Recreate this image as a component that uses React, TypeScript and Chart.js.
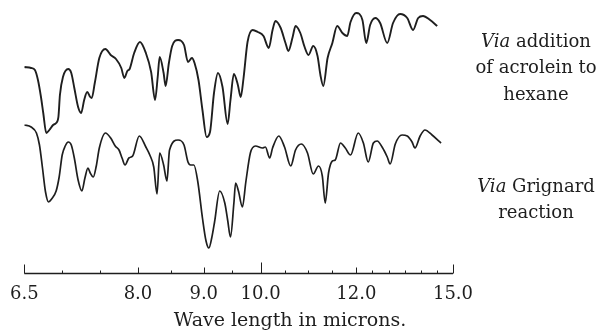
import React, { useEffect, useRef } from 'react';
import { Chart, LinearScale, registerables } from 'chart.js';

// ---- axis data ----
const TICK_MICRONS = [6.5, 8.0, 9.0, 10.0, 12.0, 15.0];
const TICK_LABELS = ['6.5', '8.0', '9.0', '10.0', '12.0', '15.0'];
const MINOR_TICK_MICRONS = [7.0, 7.5, 8.5, 9.5, 10.5, 11.0, 11.5, 12.5, 13.0, 13.5, 14.0, 14.5];
// prism (NaCl) calibration: wavelength -> fraction of drum travel
const CAL_MICRONS = [6.5, 8.0, 9.0, 10.0, 12.0, 15.0];
const CAL_DRUM = [0, 0.2651, 0.4186, 0.5512, 0.7744, 1.0];

const AXIS_TITLE = 'Wave length in microns.';

// ---- spectrum: via addition of acrolein to hexane ----
const acroleinMicrons = [
  6.5, 6.59, 6.64, 6.68, 6.72, 6.75, 6.79, 6.83, 6.88, 6.92, 6.95, 6.97, 7.01, 7.08, 7.12, 7.16, 7.21, 7.25, 7.29, 7.33,
  7.37, 7.39, 7.43, 7.49, 7.57, 7.64, 7.71, 7.78, 7.82, 7.86, 7.89, 7.95, 8.03, 8.12, 8.2, 8.26, 8.3, 8.33, 8.39, 8.42,
  8.47, 8.52, 8.61, 8.7, 8.76, 8.82, 8.86, 8.92, 8.98, 9.05, 9.11, 9.18, 9.25, 9.33, 9.42, 9.47, 9.53, 9.6, 9.65, 9.7,
  9.77, 9.86, 9.95, 10.06, 10.17, 10.25, 10.31, 10.42, 10.52, 10.58, 10.67, 10.73, 10.83, 10.92, 11.0, 11.1, 11.19, 11.25, 11.31, 11.4,
  11.5, 11.6, 11.71, 11.81, 11.88, 12.0, 12.19, 12.31, 12.43, 12.59, 12.74, 12.96, 13.14, 13.36, 13.58, 13.76, 13.92, 14.07, 14.29, 14.51,
];
const acroleinTrans = [
  82.8, 82.4, 81.6, 77.6, 70.8, 64.4, 56.4, 57.6, 59.6, 60.4, 62.8, 71.6, 78.8, 82.0, 80.4, 74.4, 66.8, 64.4, 69.6, 72.8,
  70.8, 70.4, 76.4, 86.4, 90.0, 87.6, 86.0, 82.4, 78.4, 81.2, 82.0, 88.4, 92.8, 88.4, 80.8, 69.6, 78.8, 86.8, 80.4, 75.2,
  84.4, 91.2, 93.6, 91.6, 84.8, 86.4, 84.4, 77.6, 65.6, 54.8, 56.8, 72.4, 80.4, 74.8, 60.0, 69.6, 80.0, 75.6, 70.8, 78.4,
  92.8, 97.6, 96.8, 95.2, 90.4, 97.6, 101.2, 98.4, 92.4, 89.2, 94.8, 99.2, 96.4, 90.8, 87.6, 91.2, 87.2, 79.6, 75.2, 86.4,
  92.4, 99.2, 96.4, 95.2, 100.8, 104.4, 101.6, 92.4, 99.6, 102.4, 100.4, 92.4, 100.4, 104.0, 102.4, 97.6, 102.4, 103.2, 101.6, 99.2,
];

// ---- spectrum: via Grignard reaction ----
const grignardMicrons = [
  6.5, 6.59, 6.66, 6.7, 6.74, 6.78, 6.82, 6.86, 6.92, 6.96, 7.0, 7.04, 7.08, 7.12, 7.16, 7.21, 7.26, 7.3, 7.34, 7.37,
  7.41, 7.45, 7.49, 7.57, 7.64, 7.7, 7.75, 7.79, 7.83, 7.88, 7.93, 8.02, 8.12, 8.18, 8.24, 8.29, 8.33, 8.39, 8.44, 8.48,
  8.61, 8.7, 8.76, 8.8, 8.85, 8.91, 8.98, 9.04, 9.09, 9.14, 9.19, 9.28, 9.37, 9.42, 9.47, 9.53, 9.56, 9.61, 9.68, 9.74,
  9.82, 9.91, 10.04, 10.1, 10.19, 10.25, 10.38, 10.5, 10.63, 10.73, 10.85, 10.98, 11.1, 11.21, 11.29, 11.35, 11.42, 11.5, 11.56, 11.67,
  11.77, 11.88, 12.06, 12.22, 12.37, 12.53, 12.65, 12.8, 12.96, 13.05, 13.21, 13.42, 13.58, 13.73, 13.82, 13.98, 14.13, 14.35, 14.63,
];
const grignardTrans = [
  59.6, 58.8, 56.4, 51.6, 42.4, 32.8, 28.8, 30.0, 33.2, 38.8, 47.6, 51.2, 52.8, 51.6, 46.4, 37.6, 33.2, 38.4, 42.4, 40.4,
  38.8, 43.2, 50.4, 56.4, 54.4, 51.2, 49.6, 46.4, 43.6, 46.4, 47.2, 55.2, 50.8, 47.6, 42.8, 32.0, 48.4, 43.6, 37.2, 49.6,
  53.6, 51.6, 44.8, 43.6, 43.6, 36.8, 22.4, 13.2, 10.4, 14.4, 20.8, 33.2, 28.4, 21.6, 14.8, 28.4, 36.4, 33.2, 26.8, 36.8,
  48.4, 51.2, 50.4, 50.8, 46.4, 50.4, 55.2, 50.8, 43.2, 49.6, 52.0, 48.4, 40.0, 43.2, 39.2, 28.4, 40.4, 45.2, 45.6, 52.4,
  50.4, 47.6, 56.4, 52.4, 44.8, 52.4, 53.2, 50.8, 46.8, 44.0, 52.0, 55.6, 55.2, 52.8, 50.4, 55.2, 57.6, 55.6, 52.4,
];

// ---- prism scale mapping ----
function drumForMicron(mu: number): number {
  const n = CAL_MICRONS.length;
  let i = 0;
  while (i < n - 2 && mu > CAL_MICRONS[i + 1]) i++;
  const t = (mu - CAL_MICRONS[i]) / (CAL_MICRONS[i + 1] - CAL_MICRONS[i]);
  return CAL_DRUM[i] + t * (CAL_DRUM[i + 1] - CAL_DRUM[i]);
}
function micronForDrum(d: number): number {
  const n = CAL_DRUM.length;
  let i = 0;
  while (i < n - 2 && d > CAL_DRUM[i + 1]) i++;
  const t = (d - CAL_DRUM[i]) / (CAL_DRUM[i + 1] - CAL_DRUM[i]);
  return CAL_MICRONS[i] + t * (CAL_MICRONS[i + 1] - CAL_MICRONS[i]);
}

class PrismScale extends LinearScale {
  static id = 'prism';
  static defaults = (LinearScale as any).defaults;
  getPixelForValue(value: number) {
    return (this as any).getPixelForDecimal(drumForMicron(value));
  }
  getValueForPixel(pixel: number) {
    return micronForDrum((this as any).getDecimalForPixel(pixel));
  }
}

Chart.register(...registerables, PrismScale as any);

const INK = '#1e1e1e';
const SERIF = '"DejaVu Serif", serif';

const prismAxisPlugin = {
  id: 'prismAxis',
  afterDraw(chart: any) {
    const xs = chart.scales.x;
    const ctx = chart.ctx;
    const y0 = chart.chartArea.bottom - 0.5;
    ctx.save();
    ctx.strokeStyle = INK;
    ctx.lineWidth = 1.3;
    ctx.beginPath();
    ctx.moveTo(xs.getPixelForValue(TICK_MICRONS[0]), y0);
    ctx.lineTo(xs.getPixelForValue(TICK_MICRONS[TICK_MICRONS.length - 1]), y0);
    ctx.stroke();
    ctx.lineWidth = 1;
    TICK_MICRONS.forEach((v, i) => {
      const last = i === 0 || i === TICK_MICRONS.length - 1;
      const h = last ? 9 : v === 10 ? 11 : 6;
      const px = Math.round(xs.getPixelForValue(v)) + 0.5;
      ctx.beginPath();
      ctx.moveTo(px, y0);
      ctx.lineTo(px, y0 - h);
      ctx.stroke();
    });
    MINOR_TICK_MICRONS.forEach((v) => {
      const px = Math.round(xs.getPixelForValue(v)) + 0.5;
      ctx.beginPath();
      ctx.moveTo(px, y0);
      ctx.lineTo(px, y0 - 3);
      ctx.stroke();
    });
    ctx.restore();
  },
};

export default function App() {
  const ref = useRef<HTMLCanvasElement | null>(null);
  useEffect(() => {
    if (!ref.current) return;
    const chart = new Chart(ref.current, {
      type: 'line',
      data: {
        datasets: [
          {
            label: 'Via addition of acrolein to hexane',
            data: acroleinMicrons.map((x, i) => ({ x, y: acroleinTrans[i] })),
            borderColor: INK,
            borderWidth: 1.9,
            pointRadius: 0,
            cubicInterpolationMode: 'monotone',
            fill: false,
          },
          {
            label: 'Via Grignard reaction',
            data: grignardMicrons.map((x, i) => ({ x, y: grignardTrans[i] })),
            borderColor: INK,
            borderWidth: 1.7,
            pointRadius: 0,
            cubicInterpolationMode: 'monotone',
            fill: false,
          },
        ],
      },
      options: {
        animation: false,
        responsive: false,
        events: [],
        layout: { padding: { left: 23, right: 147, top: 4, bottom: 0 } },
        plugins: { legend: { display: false }, tooltip: { enabled: false } },
        scales: {
          x: {
            type: 'prism' as any,
            min: 6.5,
            max: 15.0,
            grid: { display: false, drawTicks: false },
            border: { display: false },
            afterBuildTicks: (s: any) => {
              s.ticks = TICK_MICRONS.map((v) => ({ value: v }));
            },
            afterFit: (s: any) => {
              s.height = 59;
            },
            ticks: {
              autoSkip: false,
              maxRotation: 0,
              minRotation: 0,
              padding: 10,
              color: INK,
              font: { family: SERIF, size: 18 },
              callback: (_v: any, i: number) => TICK_LABELS[i],
            },
          } as any,
          y: { display: false, min: 0, max: 108 },
        },
      },
      plugins: [prismAxisPlugin],
    });
    return () => chart.destroy();
  }, []);

  const noteStyle: React.CSSProperties = {
    position: 'absolute',
    left: 471,
    width: 130,
    textAlign: 'center',
    fontFamily: SERIF,
    fontSize: 18,
    lineHeight: '26.5px',
    color: INK,
    whiteSpace: 'nowrap',
  };

  return (
    <div style={{ position: 'absolute', left: 0, top: 0, width: 600, height: 333, background: '#fff' }}>
      <canvas ref={ref} width={600} height={333} style={{ display: 'block' }} />
      <div style={{ ...noteStyle, top: 27.5 }}>
        <div><i>Via</i> addition</div>
        <div>of acrolein to</div>
        <div>hexane</div>
      </div>
      <div style={{ ...noteStyle, top: 172.5 }}>
        <div><i>Via</i> Grignard</div>
        <div>reaction</div>
      </div>
      <div
        style={{
          position: 'absolute',
          left: 0,
          width: 580,
          top: 308,
          textAlign: 'center',
          fontFamily: SERIF,
          fontSize: 19,
          lineHeight: '22px',
          color: INK,
          whiteSpace: 'nowrap',
        }}
      >
        {AXIS_TITLE}
      </div>
    </div>
  );
}
